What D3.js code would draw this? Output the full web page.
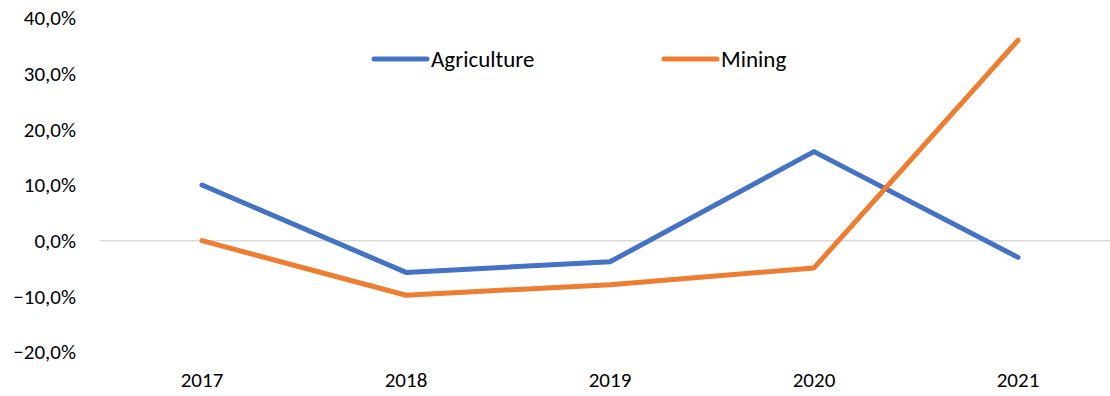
<!DOCTYPE html>
<html>
<head>
<meta charset="utf-8">
<script src="https://cdn.jsdelivr.net/npm/d3@7"></script>
<style>
  html, body { margin: 0; padding: 0; background: #fff; }
  svg { display: block; }
  text { font-family: Carlito, Lato, "Liberation Sans", sans-serif; fill: #000; }
</style>
</head>
<body>
<svg id="chart" width="1110" height="396"></svg>
<script>
// Annual growth rates by sector
const years = ["2017", "2018", "2019", "2020", "2021"];
const agriculture = [0.100, -0.057, -0.038, 0.160, -0.030];
const mining = [0.000, -0.098, -0.079, -0.049, 0.360];
const yTicks = [-0.2, -0.1, 0.0, 0.1, 0.2, 0.3, 0.4];
const seriesNames = ["Agriculture", "Mining"];
const seriesColors = ["#4472C4", "#ED7D31"];

const svg = d3.select("#chart");
const W = 1110, H = 396;

const x = d3.scaleBand().domain(years).range([100, 1120]);
const y = d3.scaleLinear().domain([-0.2, 0.4]).range([352, 18]);

const fmt = d3.formatLocale({ decimal: ",", thousands: ".", grouping: [3], currency: ["", ""] }).format(".1%");

// zero baseline
svg.append("line")
  .attr("x1", 100).attr("x2", W)
  .attr("y1", y(0)).attr("y2", y(0))
  .attr("stroke", "#d9d9d9").attr("stroke-width", 1.5);

// y axis labels
const yAxis = d3.axisLeft(y).tickValues(yTicks).tickFormat(fmt).tickSize(0).tickPadding(0);
const gy = svg.append("g").attr("transform", "translate(76,0)").call(yAxis);
gy.select(".domain").remove();
gy.selectAll("text").attr("font-size", 21).attr("font-family", null);

// x axis labels
const xAxis = d3.axisBottom(x).tickSize(0).tickPadding(0);
const gx = svg.append("g").attr("transform", "translate(0,372)").call(xAxis);
gx.select(".domain").remove();
gx.selectAll("text").attr("font-size", 21).attr("font-family", null);

// series lines
const line = d3.line()
  .x((d, i) => x(years[i]) + x.bandwidth() / 2)
  .y(d => y(d));

[agriculture, mining].forEach((vals, k) => {
  svg.append("path")
    .datum(vals)
    .attr("d", line)
    .attr("fill", "none")
    .attr("stroke", seriesColors[k])
    .attr("stroke-width", 5)
    .attr("stroke-linejoin", "round")
    .attr("stroke-linecap", "round");
});

// legend
const legendX = [374, 664];
seriesNames.forEach((name, k) => {
  const g = svg.append("g").attr("transform", `translate(${legendX[k]},59)`);
  g.append("line")
    .attr("x1", 0).attr("x2", 53)
    .attr("stroke", seriesColors[k]).attr("stroke-width", 5)
    .attr("stroke-linecap", "round");
  g.append("text")
    .attr("x", 57).attr("y", 0).attr("dy", "0.36em")
    .attr("font-size", 23)
    .text(name);
});
</script>
</body>
</html>
